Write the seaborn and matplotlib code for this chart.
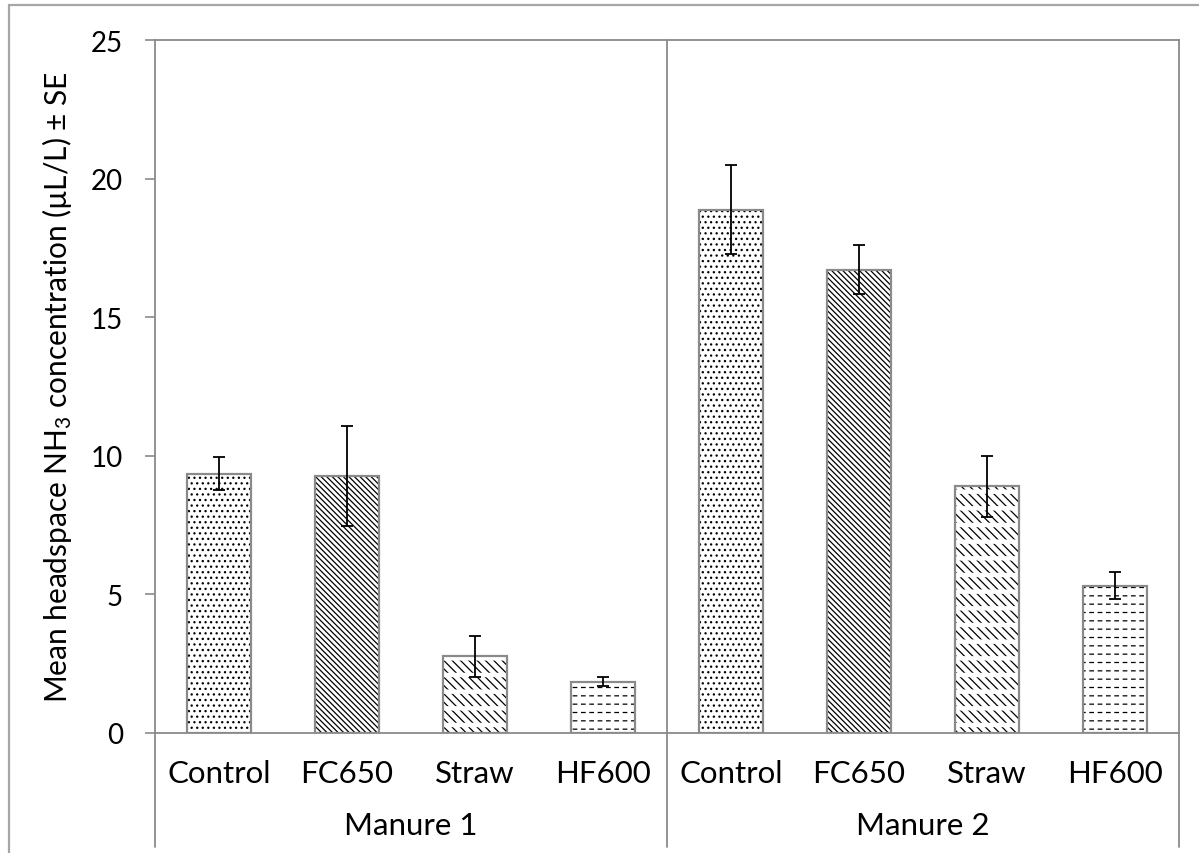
import matplotlib
matplotlib.use("Agg")
import matplotlib.pyplot as plt
import matplotlib.transforms as mtransforms
from matplotlib.patches import Rectangle
import seaborn as sns
import pandas as pd
import numpy as np

# ---- data ----
groups = ["Manure 1", "Manure 2"]
treatments = ["Control", "FC650", "Straw", "HF600"]
manure1_mean = [9.35, 9.28, 2.76, 1.85]
manure1_se = [0.60, 1.80, 0.74, 0.16]
manure2_mean = [18.88, 16.72, 8.90, 5.32]
manure2_se = [1.60, 0.90, 1.10, 0.50]
yticks = [0, 5, 10, 15, 20, 25]

sns.set_theme(style="white")
plt.rcParams["font.family"] = ["Lato", "DejaVu Sans"]
plt.rcParams["mathtext.fontset"] = "custom"
plt.rcParams["mathtext.rm"] = "Lato"
plt.rcParams["mathtext.it"] = "Lato:italic"
plt.rcParams["hatch.linewidth"] = 0.9
plt.rcParams["text.color"] = "black"
plt.rcParams["xtick.color"] = "black"
plt.rcParams["ytick.color"] = "black"
plt.rcParams["axes.labelcolor"] = "black"

slots = [f"{g}|{t}" for g in groups for t in treatments]
df = pd.DataFrame({
    "slot": slots,
    "mean": manure1_mean + manure2_mean,
    "se": manure1_se + manure2_se,
    "treat": treatments * 2,
})

W, H = 1199, 854
fig = plt.figure(figsize=(W / 100, H / 100), dpi=100)
ax = fig.add_axes([155 / W, 1 - 734 / H, 1024 / W, 693 / H])

gray = "#8a8a8a"
hatches = {"Control": "...", "FC650": "\\\\\\\\\\\\", "Straw": "\\\\\\\\", "HF600": "--"}

# layer 1: hatched fill (hatch colour follows edgecolor -> black), no outline
sns.barplot(data=df, x="slot", y="mean", order=slots, width=0.5,
            color="white", edgecolor="black", linewidth=0, errorbar=None, ax=ax)
for p, t in zip(ax.patches, df["treat"]):
    p.set_hatch(hatches[t])
n1 = len(ax.patches)

# layer 2: white breaks for the dashed patterns
brk = {"Straw": "-", "HF600": "||"}
sns.barplot(data=df, x="slot", y="mean", order=slots, width=0.5,
            fill=False, edgecolor="white", linewidth=0, errorbar=None, ax=ax)
for p, t in zip(ax.patches[n1:], df["treat"]):
    if t in brk:
        p.set_hatch(brk[t])
        if hasattr(p, "set_hatch_linewidth"):
            p.set_hatch_linewidth(3.2 if t == "Straw" else 2.6)
    else:
        p.set_visible(False)

# layer 3: gray outlines
sns.barplot(data=df, x="slot", y="mean", order=slots, width=0.5,
            fill=False, edgecolor=gray, linewidth=1.6, errorbar=None, ax=ax)

# error bars
xpos = np.arange(len(slots))
ax.errorbar(xpos, df["mean"], yerr=df["se"], fmt="none", ecolor="black",
            elinewidth=1.3, capsize=4, capthick=1.3, zorder=5)

ax.set_xlim(-0.5, len(slots) - 0.5)
ax.set_ylim(0, 25)
ax.set_yticks(yticks)
ax.set_yticklabels([str(v) for v in yticks])
ax.tick_params(axis="y", which="major", left=True, length=7, width=1.2,
               color=gray, labelsize=20, pad=16, labelcolor="black")
ax.set_xticks(xpos)
ax.set_xticklabels(treatments * 2)
ax.tick_params(axis="x", bottom=False, labelsize=22.5, pad=13, labelcolor="black")
ax.set_xlabel("")
ax.set_ylabel(r"Mean headspace NH$_\mathregular{3}$ concentration (µL/L) ± SE",
              fontsize=21.5, labelpad=12)

for s in ax.spines.values():
    s.set_color(gray)
    s.set_linewidth(1.3)
    s.set_visible(True)

# group separators and group labels
trans = mtransforms.blended_transform_factory(ax.transData, ax.transAxes)
bottom = (734 - 848) / 693
for xv in [-0.5, 3.5, 7.5]:
    top = 1.0 if xv == 3.5 else 0.0
    ax.plot([xv, xv], [bottom, top], transform=trans, color=gray, lw=1.3,
            clip_on=False, zorder=6)
for i, g in enumerate(groups):
    ax.text(i * 4 + 1.5, (734 - 826) / 693, g, transform=trans, ha="center",
            va="center", fontsize=22.5, color="black")

# outer chart frame
fig.patches.append(Rectangle((9 / W, -0.2), 1.3, 1.2 - 6 / H, transform=fig.transFigure,
                             fill=False, edgecolor="#a6a6a6", lw=1.6))

fig.savefig("out.png", dpi=100)
